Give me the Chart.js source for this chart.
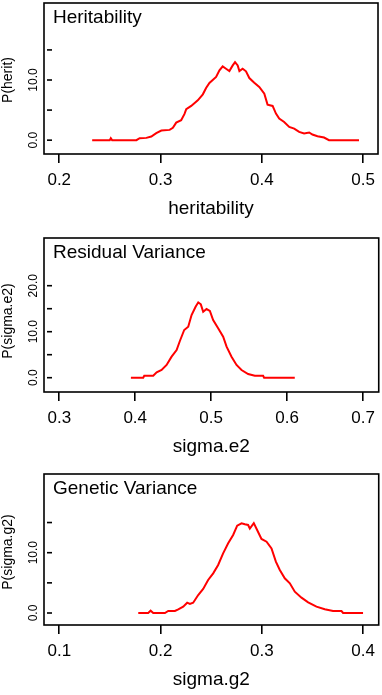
<!DOCTYPE html>
<html><head><meta charset="utf-8">
<script src="https://cdn.jsdelivr.net/npm/chart.js@4"></script>
<style>
html,body{margin:0;padding:0;background:#fff;width:382px;height:695px;overflow:hidden}
canvas.p{position:absolute;left:0}
</style></head><body>
<canvas id="c1" class="p" width="382" height="224" style="top:0px"></canvas>
<canvas id="c2" class="p" width="382" height="227" style="top:235px"></canvas>
<canvas id="c3" class="p" width="382" height="224" style="top:471px"></canvas>
<script>
// ---- Data ----
const heritX = [0.2325,0.2499,0.2509,0.2522,0.2762,0.2794,0.2860,0.2909,0.2958,0.3008,0.3090,0.3122,0.3155,0.3204,0.3237,0.3254,0.3303,0.3368,0.3418,0.3450,0.3483,0.3549,0.3582,0.3614,0.3647,0.3680,0.3713,0.3736,0.3762,0.3779,0.3811,0.3844,0.3877,0.3926,0.3975,0.4025,0.4057,0.4107,0.4140,0.4172,0.4221,0.4271,0.4320,0.4369,0.4418,0.4468,0.4500,0.4550,0.4615,0.4664,0.4960];
const heritP = [0,0,0.33,0,0,0.33,0.38,0.60,1.16,1.60,1.71,2.04,2.92,3.31,4.36,5.14,5.69,6.63,7.62,8.67,9.50,10.50,11.60,12.27,11.88,11.49,12.43,12.98,12.43,11.49,11.88,11.44,10.33,9.56,8.84,7.73,5.91,5.69,4.42,3.59,3.03,2.21,1.93,1.38,1.10,1.27,0.93,0.66,0.44,0,0];

const sigmaE2X = [0.3943,0.4105,0.4119,0.4237,0.4282,0.4347,0.4413,0.4479,0.4545,0.4588,0.4645,0.4698,0.4742,0.4795,0.4830,0.4864,0.4895,0.4939,0.4983,0.5026,0.5092,0.5158,0.5203,0.5268,0.5334,0.5400,0.5487,0.5575,0.5684,0.5697,0.6101];
const sigmaE2P = [0,0,0.43,0.43,1.16,1.67,2.76,4.57,6.02,7.98,10.37,11.09,13.63,15.43,16.38,15.95,14.35,14.93,14.50,12.54,10.74,8.91,6.74,4.57,2.76,1.67,0.80,0.43,0.43,0,0];

const sigmaG2X = [0.1780,0.1878,0.1902,0.1928,0.2043,0.2076,0.2142,0.2175,0.2224,0.2263,0.2290,0.2322,0.2372,0.2421,0.2470,0.2520,0.2569,0.2618,0.2668,0.2717,0.2757,0.2800,0.2833,0.2865,0.2882,0.2921,0.2954,0.2997,0.3047,0.3096,0.3139,0.3178,0.3227,0.3277,0.3326,0.3392,0.3458,0.3540,0.3622,0.3704,0.3787,0.3803,0.4000];
const sigmaG2P = [0,0,0.38,0,0,0.33,0.33,0.61,1.05,1.71,1.49,1.71,2.98,3.98,5.47,6.58,7.96,9.90,11.56,12.94,14.48,14.88,14.71,14.60,14.00,14.90,13.76,12.27,11.83,10.72,8.51,7.13,5.75,4.93,3.53,2.54,1.77,1.05,0.61,0.33,0.33,0,0];

const heritXTicks = [0.2,0.3,0.4,0.5];
const sigmaE2XTicks = [0.3,0.4,0.5,0.6,0.7];
const sigmaG2XTicks = [0.1,0.2,0.3,0.4];
const heritYTicks = [0,5,10,15];
const sigmaE2YTicks = [0,5,10,15,20];
const sigmaG2YTicks = [0,5,10,15];
const heritYLabels = [0,10];
const sigmaE2YLabels = [0,10,20];
const sigmaG2YLabels = [0,10];

const panelTitles = ['Heritability','Residual Variance','Genetic Variance'];
const xTitles = ['heritability','sigma.e2','sigma.g2'];
const yTitles = ['P(herit)','P(sigma.e2)','P(sigma.g2)'];

// ---- Rendering ----
const FAM = '"Liberation Sans", Arial, Helvetica, sans-serif';
Chart.defaults.color = '#000';
Chart.defaults.font.family = FAM;

const panelDeco = {
  id: 'panelDeco',
  afterDraw(chart, args, o) {
    const {ctx, chartArea: a} = chart;
    const y = chart.scales.y;
    ctx.save();
    ctx.strokeStyle = '#000';
    ctx.lineWidth = 1.6;
    ctx.strokeRect(a.left, a.top, a.right - a.left, a.bottom - a.top);
    o.yTicks.forEach(v => {
      const py = y.getPixelForValue(v);
      ctx.beginPath(); ctx.moveTo(a.left + 3, py); ctx.lineTo(a.left + 8, py); ctx.stroke();
    });
    ctx.fillStyle = '#000';
    ctx.textAlign = 'center';
    ctx.textBaseline = 'middle';
    ctx.font = '12px ' + FAM;
    o.yLabels.forEach(v => {
      const py = y.getPixelForValue(v);
      ctx.save(); ctx.translate(a.left - 10.5, py); ctx.rotate(-Math.PI / 2);
      ctx.fillText(v.toFixed(1), 0, 0); ctx.restore();
    });
    ctx.font = '14px ' + FAM;
    ctx.save(); ctx.translate(8, (a.top + a.bottom) / 2 + o.yTitleShift); ctx.rotate(-Math.PI / 2);
    ctx.fillText(o.yTitle, 0, 0); ctx.restore();
    ctx.font = '19px ' + FAM;
    ctx.textAlign = 'left';
    ctx.fillText(o.title, a.left + 9, a.top + 15);
    ctx.restore();
  }
};

function makeChart(id, xs, ps, xr, yr, xTicks, yTicks, yLabels, idx, shift) {
  new Chart(document.getElementById(id), {
    type: 'line',
    data: { datasets: [{
      data: xs.map((x, i) => ({x: x, y: ps[i]})),
      borderColor: '#ff0000', borderWidth: 2, pointRadius: 0, tension: 0, fill: false
    }]},
    options: {
      responsive: false, animation: false,
      layout: { padding: { top: 3, left: 44, right: 3, bottom: 0 } },
      plugins: {
        legend: { display: false }, tooltip: { enabled: false },
        panelDeco: { yTicks: yTicks, yLabels: yLabels, yTitle: yTitles[idx], title: panelTitles[idx], yTitleShift: shift }
      },
      scales: {
        x: {
          type: 'linear', min: xr[0], max: xr[1], position: 'bottom',
          afterBuildTicks: ax => { ax.ticks = xTicks.map(v => ({value: v})); },
          afterFit: ax => { ax.height = 70; },
          grid: { display: true, drawOnChartArea: false, drawTicks: true, tickLength: 9, color: '#000', lineWidth: 1.6 },
          border: { display: false },
          ticks: { autoSkip: false, maxRotation: 0, minRotation: 0, padding: 7, color: '#000',
                   font: { size: 17, family: FAM }, callback: v => Number(v).toFixed(1) },
          title: { display: true, text: xTitles[idx], color: '#000', font: { size: 19, family: FAM }, padding: { top: 0, bottom: 4 } }
        },
        y: { type: 'linear', display: false, min: yr[0], max: yr[1] }
      }
    },
    plugins: [panelDeco]
  });
}

makeChart('c1', heritX, heritP, [0.18494, 0.51477], [-2.3, 22.8], heritXTicks, heritYTicks, heritYLabels, 0, 1.5);
makeChart('c2', sigmaE2X, sigmaE2P, [0.27987, 0.72066], [-3.11, 30.37], sigmaE2XTicks, sigmaE2YTicks, sigmaE2YLabels, 1, 6);
makeChart('c3', sigmaG2X, sigmaG2P, [0.0849, 0.41549], [-1.99, 23.05], sigmaG2XTicks, sigmaG2YTicks, sigmaG2YLabels, 2, 2.5);
</script>
</body></html>
